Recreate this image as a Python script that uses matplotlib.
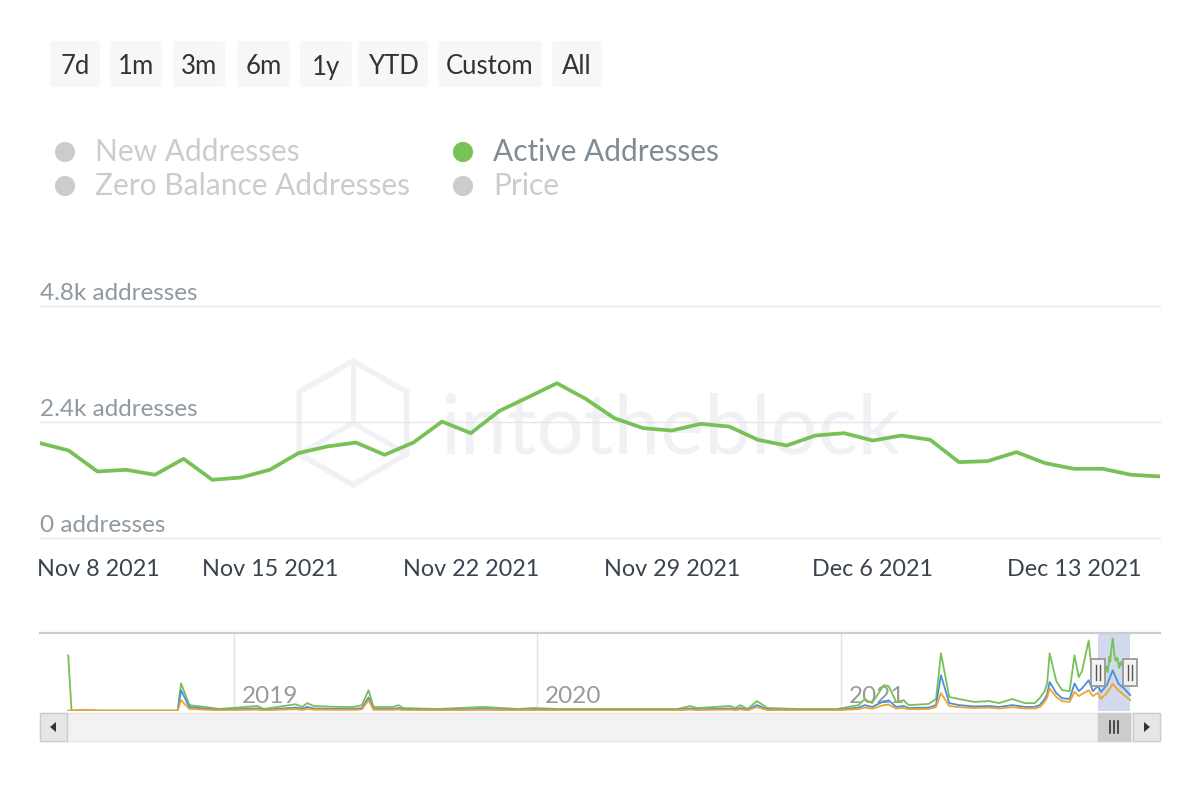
import numpy as np
import pandas as pd
import matplotlib
matplotlib.use('Agg')
import matplotlib.pyplot as plt
import matplotlib.dates as mdates
from matplotlib import transforms
from matplotlib.patches import FancyBboxPatch, Rectangle, RegularPolygon, Polygon

plt.rcParams['font.family'] = ['Lato', 'DejaVu Sans']

##############################################################################
# Datos
# Direcciones activas por día (gráfica principal)
fechas = pd.date_range('2021-11-07', '2021-12-16', freq='D')
activas = [1963, 1810, 1376, 1411, 1308, 1638, 1204, 1252, 1411, 1756,
           1893, 1975, 1721, 1975, 2409, 2169, 2630, 2913, 3202, 2880,
           2479, 2273, 2223, 2361, 2306, 2031, 1913, 2120, 2169, 2017,
           2120, 2031, 1570, 1591, 1777, 1549, 1432, 1432, 1308, 1273]

# Historia para el navegador (antes de la ventana seleccionada)
nav_fechas = ['2018-06-15', '2018-06-19', '2018-07-03', '2018-07-23', '2018-10-25',
              '2018-10-29', '2018-11-08', '2018-11-26', '2018-12-14', '2019-01-29',
              '2019-02-06', '2019-03-16', '2019-03-24', '2019-03-30', '2019-04-07',
              '2019-05-07', '2019-05-25', '2019-06-04', '2019-06-12', '2019-06-18',
              '2019-07-12', '2019-07-18', '2019-07-24', '2019-09-04', '2019-10-28',
              '2019-12-09', '2019-12-28', '2020-01-26', '2020-03-14', '2020-06-18',
              '2020-07-04', '2020-07-12', '2020-08-21', '2020-08-27', '2020-09-02',
              '2020-09-11', '2020-09-22', '2020-10-05', '2020-11-10', '2020-12-28',
              '2021-01-23', '2021-01-30', '2021-02-08', '2021-02-22', '2021-02-28',
              '2021-03-09', '2021-03-18', '2021-03-24', '2021-04-17', '2021-04-26',
              '2021-05-02', '2021-05-12', '2021-05-24', '2021-06-11', '2021-06-29',
              '2021-07-11', '2021-07-27', '2021-08-11', '2021-08-23', '2021-08-29',
              '2021-09-04', '2021-09-07', '2021-09-10', '2021-09-18', '2021-09-25',
              '2021-10-04', '2021-10-10', '2021-10-15', '2021-10-19', '2021-10-27',
              '2021-11-01']
nav_activas = [2460, 20, 40, 20, 20, 1230, 260, 180, 90, 220,
               90, 300, 180, 350, 220, 180, 180, 260, 920, 180,
               180, 260, 130, 90, 180, 90, 130, 90, 90, 90,
               220, 130, 220, 130, 260, 90, 440, 130, 90, 90,
               260, 530, 350, 1140, 1100, 400, 480, 260, 310, 530,
               2550, 620, 530, 400, 440, 350, 530, 350, 350, 570,
               880, 1230, 2550, 1320, 920, 880, 2460, 1500, 1760, 3120,
               1320]
nav_nuevas = [10, 10, 20, 10, 10, 920, 170, 110, 50, 110,
              50, 150, 100, 180, 110, 90, 90, 130, 600, 90,
              90, 130, 70, 50, 90, 50, 70, 50, 50, 50,
              110, 70, 110, 70, 130, 50, 260, 70, 50, 50,
              150, 260, 180, 430, 470, 180, 220, 130, 150, 260,
              1580, 350, 260, 200, 220, 180, 260, 180, 180, 260,
              530, 750, 1280, 790, 570, 530, 1220, 880, 1000, 1360,
              880]
nav_cero = [10, 10, 40, 10, 10, 480, 90, 60, 30, 60,
            30, 80, 50, 90, 60, 50, 50, 70, 480, 50,
            50, 70, 40, 30, 50, 30, 40, 30, 30, 30,
            60, 40, 60, 40, 70, 30, 170, 40, 30, 30,
            90, 150, 100, 260, 280, 110, 130, 80, 90, 170,
            790, 220, 170, 130, 150, 110, 170, 110, 110, 170,
            400, 600, 990, 620, 440, 400, 850, 660, 750, 920,
            660]
# Ventana seleccionada (nuevas y saldo cero)
win_fechas = ['2021-11-07', '2021-11-11', '2021-11-18', '2021-11-25',
              '2021-12-02', '2021-12-09', '2021-12-16']
win_nuevas = [1100, 840, 1150, 1800, 1200, 990, 700]
win_cero = [800, 540, 800, 1200, 900, 700, 480]

botones = ['7d', '1m', '3m', '6m', '1y', 'YTD', 'Custom', 'All']
series = ['New Addresses', 'Zero Balance Addresses', 'Active Addresses', 'Price']
visibles = [False, False, True, False]

y_ticks = [0, 2400, 4800]
y_etiquetas = ['0 addresses', '2.4k addresses', '4.8k addresses']
anios = ['2019', '2020', '2021']

verde = '#77c157'
azul = '#4a90d9'
naranja = '#f0a32e'
marca = '#eff1f5'

##############################################################################
# Figura
W, H = 1200, 800
fig = plt.figure(figsize=(12, 8), dpi=100)


def caja(x0, y0, x1, y1):
    # caja en pixeles (desde arriba) -> fracción de figura
    return [x0 / W, 1 - y1 / H, (x1 - x0) / W, (y1 - y0) / H]


fondo = fig.add_axes([0, 0, 1, 1], zorder=0)
fondo.set_xlim(0, W)
fondo.set_ylim(H, 0)
fondo.axis('off')

ax = fig.add_axes(caja(40, 306, 1160, 538), zorder=1)
ax.patch.set_alpha(0)
nav = fig.add_axes(caja(40, 633, 1160, 711), zorder=1)
nav.patch.set_alpha(0)

frente = fig.add_axes([0, 0, 1, 1], zorder=3)
frente.set_xlim(0, W)
frente.set_ylim(H, 0)
frente.axis('off')
frente.patch.set_alpha(0)

# Botones de rango
bx = [(50, 100), (110, 162), (173, 225), (237, 290), (300, 352),
      (358, 428), (438, 542), (552, 602)]
for b, (x0, x1) in zip(botones, bx):
    fondo.add_patch(FancyBboxPatch((x0, 41), x1 - x0, 46,
                                   boxstyle='round,pad=0,rounding_size=3',
                                   fc='#f7f7f7', ec='none'))
    fondo.text((x0 + x1) / 2, 67, b, ha='center', va='center',
               fontsize=18.5, color='#333333')

# Leyenda
pos_ley = [(65, 152), (65, 186), (463, 152), (463, 186)]
for nombre, vis, (lx, ly) in zip(series, visibles, pos_ley):
    fondo.scatter([lx], [ly], s=210, color=verde if vis else '#cccccc',
                  edgecolors='none')
    fondo.text(lx + 30, ly, nombre, ha='left', va='center', fontsize=21.5,
               color='#7f8b95' if vis else '#cccccc')

# Marca de agua
fondo.add_patch(RegularPolygon((353, 423), 6, radius=62, fill=False,
                               ec=marca, lw=4))
for ang in [90, 210, 330]:
    r = np.deg2rad(ang)
    fondo.plot([353, 353 + 62 * np.cos(r)], [423, 423 - 62 * np.sin(r)],
               color=marca, lw=3.5)
ax.text(0.563, 0.366, 'intotheblock', transform=ax.transAxes, ha='center',
        va='baseline', fontsize=60, color=marca, zorder=0)

##############################################################################
# Gráfica principal
ax.plot(fechas, activas, color=verde, lw=2.7, solid_joinstyle='round', zorder=3)
ax.set_xlim(fechas[0], fechas[-1])
ax.set_ylim(0, 4800)
ax.set_yticks(y_ticks)
ax.yaxis.set_ticklabels([])
ax.grid(axis='y', color='#e6e6e6', lw=1)
for gl in ax.get_ygridlines():
    gl.set_clip_on(False)
for s in ax.spines.values():
    s.set_visible(False)

tr_y = transforms.offset_copy(transforms.blended_transform_factory(ax.transAxes, ax.transData),
                              fig=fig, y=2, units='dots')
for v, lab in zip(y_ticks, y_etiquetas):
    ax.text(0, v, lab, transform=tr_y, ha='left', va='bottom',
            fontsize=17.5, color='#8f99a1')

ticks = pd.date_range('2021-11-08', '2021-12-13', freq='7D')
etiquetas = [f'{d:%b} {d.day} {d.year}' for d in ticks]
ax.set_xticks(ticks)
ax.set_xticklabels([''] + etiquetas[1:])
ax.tick_params(length=0, pad=15, labelsize=16.8, labelcolor='#3a444e')
tr_x = transforms.offset_copy(transforms.blended_transform_factory(ax.transData, ax.transAxes),
                              fig=fig, x=-2, y=-15, units='points')
ax.text(fechas[0], 0, etiquetas[0], transform=tr_x, ha='left', va='top',
        fontsize=16.8, color='#3a444e')

##############################################################################
# Navegador
g_f = pd.to_datetime(nav_fechas).append(fechas)
g_v = nav_activas + activas
b_f = pd.to_datetime(nav_fechas + win_fechas)
b_v = nav_nuevas + win_nuevas
o_v = nav_cero + win_cero

nav.plot(g_f, g_v, color=verde, lw=1.3, zorder=3)
nav.plot(b_f, b_v, color=azul, lw=1.3, zorder=3)
nav.plot(b_f, o_v, color=naranja, lw=1.3, zorder=3)
nav.set_xlim(pd.Timestamp('2018-05-12'), pd.Timestamp('2022-01-21'))
nav.set_ylim(0, 3450)
nav.set_yticks([])
anios_f = pd.to_datetime([a + '-01-01' for a in anios])
nav.set_xticks(anios_f)
nav.set_xticklabels([])
nav.tick_params(length=0)
nav.grid(axis='x', color='#e3e3e3', lw=1)
for k, s in nav.spines.items():
    s.set_visible(k == 'top')
nav.spines['top'].set_color('#cccccc')
nav.spines['top'].set_linewidth(1.6)
tr_a = transforms.offset_copy(transforms.blended_transform_factory(nav.transData, nav.transAxes),
                              fig=fig, x=8, y=0, units='dots')
for a, af in zip(anios, anios_f):
    nav.text(af, 0.19, a, transform=tr_a, ha='left', va='center',
             fontsize=17.5, color='#9a9a9a', zorder=1)
nav.axvspan(fechas[0], fechas[-1], color=(102 / 255, 133 / 255, 194 / 255),
            alpha=0.3, lw=0, zorder=0)

# posiciones en pixeles de la ventana seleccionada
xa = nav.transData.transform([[mdates.date2num(fechas[0]), 0]])[0, 0]
xb = nav.transData.transform([[mdates.date2num(fechas[-1]), 0]])[0, 0]

# Barra de desplazamiento
frente.add_patch(Rectangle((40, 713), 1120, 28, fc='#f2f2f2', ec='#e6e6e6', lw=1))
frente.add_patch(Rectangle((40, 713), 27, 28, fc='#e6e6e6', ec='#cccccc', lw=1))
frente.add_patch(Rectangle((1133, 713), 27, 28, fc='#e6e6e6', ec='#cccccc', lw=1))
frente.add_patch(Polygon([(50, 727), (56, 722), (56, 732)], closed=True, fc='#333333'))
frente.add_patch(Polygon([(1150, 727), (1144, 722), (1144, 732)], closed=True, fc='#333333'))
frente.add_patch(Rectangle((xa, 713), xb - xa, 28, fc='#cccccc', ec='#cccccc', lw=1))
xc = (xa + xb) / 2
for dx in [-4, 0, 4]:
    frente.plot([xc + dx, xc + dx], [721, 733], color='#333333', lw=1.2)

# Manijas del navegador
for xm in [xa, xb]:
    frente.add_patch(Rectangle((xm - 7, 659), 14, 27, fc='#f2f2f2', ec='#999999', lw=1.3))
    for dx in [-2, 2]:
        frente.plot([xm + dx, xm + dx], [665, 680], color='#555555', lw=1)

plt.savefig('out.png', dpi=100)
